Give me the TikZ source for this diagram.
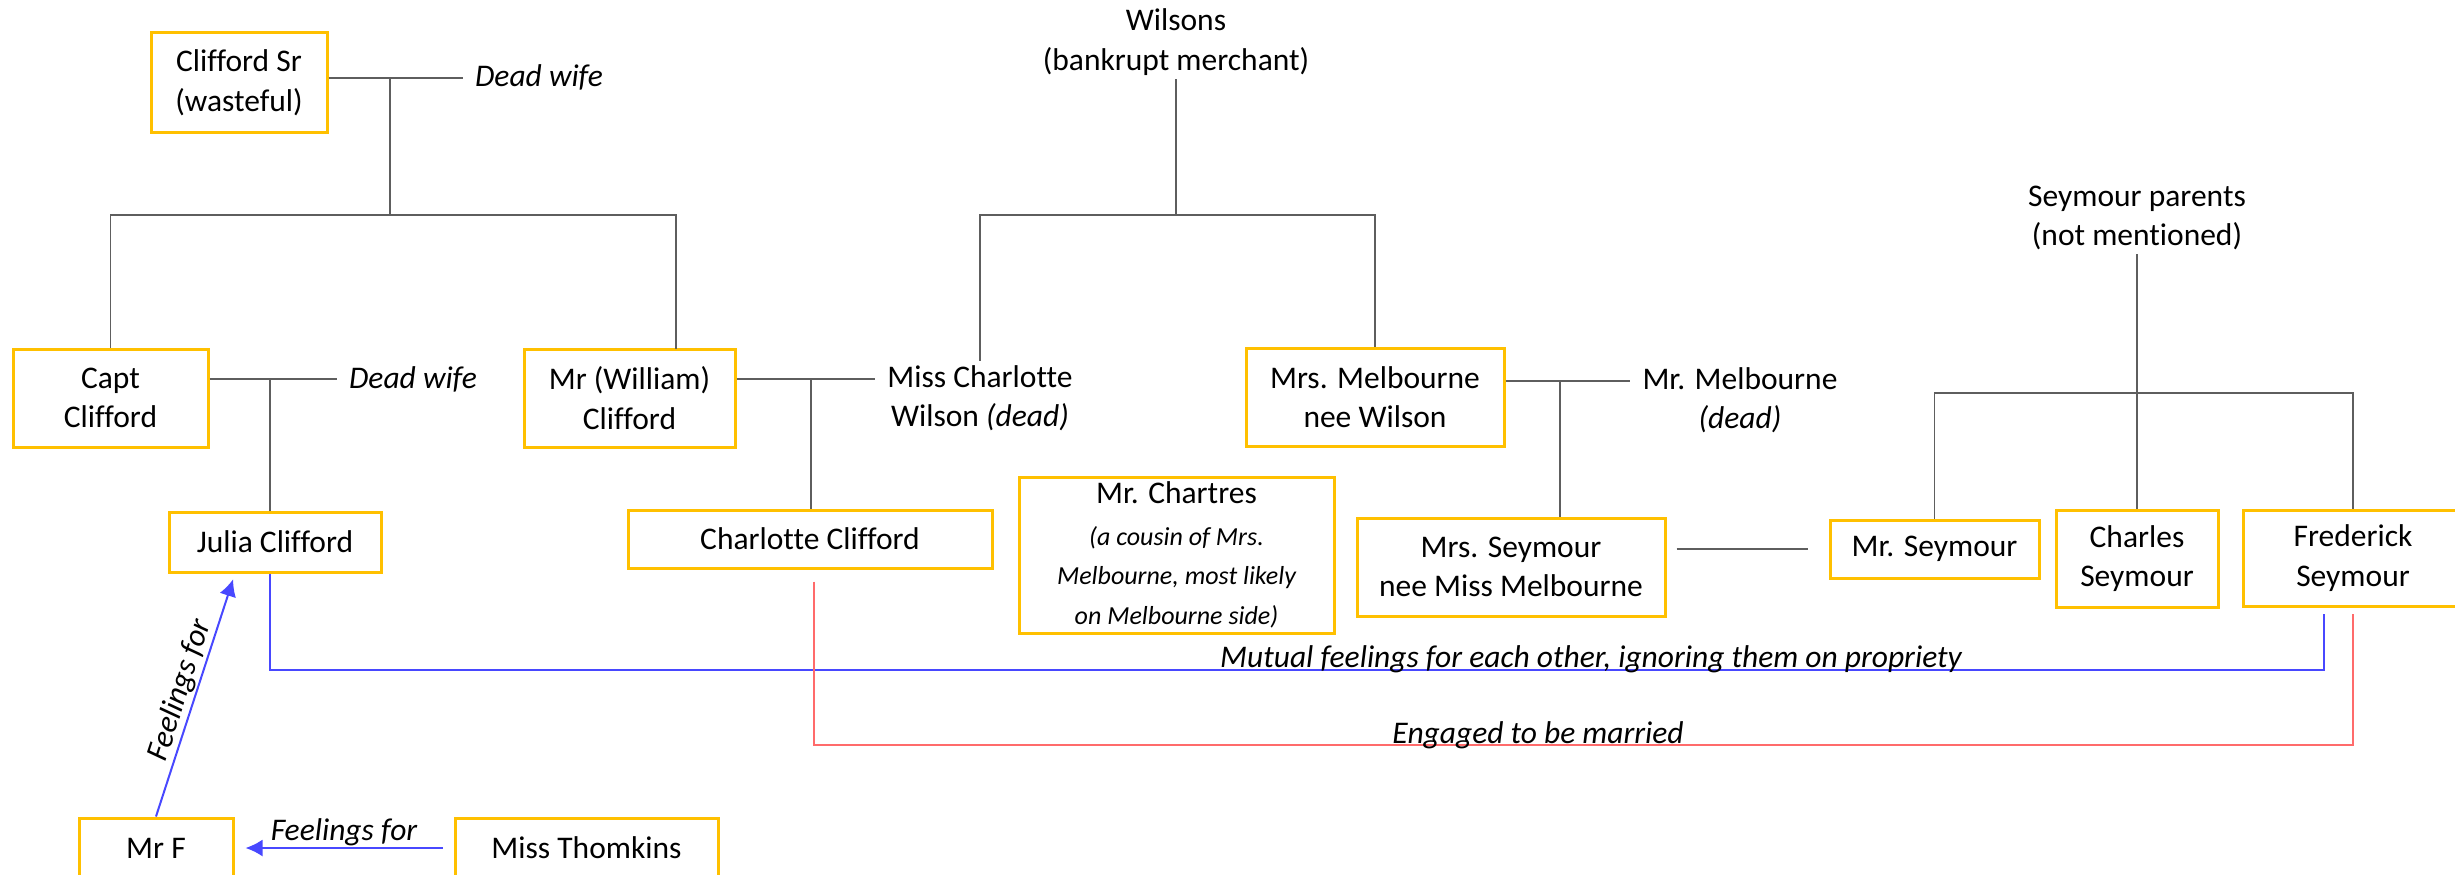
\documentclass[tikz,border=0pt]{standalone}
\usepackage{fontspec}
\setmainfont{Carlito}[Ligatures=NoCommon]
\usetikzlibrary{arrows.meta}
\definecolor{boxgold}{HTML}{FFC000}
\definecolor{treegray}{HTML}{5E5E5E}
\definecolor{feelblue}{HTML}{4848FF}
\definecolor{engagedred}{HTML}{FF6B6B}
\newcommand\smallit{\fontsize{26}{32}\selectfont\itshape}
\begin{document}
\begin{tikzpicture}[x=1pt,y=-1pt,
    font=\fontsize{31.5}{39.5}\selectfont,
    person/.style={draw=boxgold,line width=3pt,align=center,inner sep=0pt},
    note/.style={align=center,inner xsep=12pt,inner ysep=4pt},
    spouse/.style={note,font=\fontsize{31.5}{39.5}\selectfont\itshape},
    lbl/.style={font=\fontsize{31.5}{39.5}\selectfont\itshape,inner sep=1pt},
    tree/.style={draw=treegray,line width=1.6pt},
    mutual/.style={draw=feelblue,line width=2pt},
    engaged/.style={draw=engagedred,line width=2pt},
    feel/.style={draw=feelblue,line width=2pt,-{Latex[length=17pt,width=17pt]}}]
  \useasboundingbox (0,0) rectangle (2455,875);

  % Cliffords
  \node[person,minimum width=176pt,minimum height=99pt] (cs) at (239,82.5) {Clifford Sr\\(wasteful)};
  \node[spouse] (cswife) at (539,77) {Dead wife};
  \node[person,minimum width=195pt,minimum height=98pt] (capt) at (110.5,398) {Capt\\Clifford};
  \node[spouse] (captwife) at (413,379) {Dead wife};
  \node[person,minimum width=211pt,minimum height=98pt] (will) at (629.5,398) {Mr (William)\\Clifford};
  \node[note] (mcw) at (980,398) {Miss Charlotte\\Wilson \textit{(dead)}};
  \node[person,minimum width=212pt,minimum height=60pt] (julia) at (275,542) {Julia Clifford};
  \node[person,minimum width=364pt,minimum height=58pt] (cc) at (810,539) {Charlotte Clifford};

  % Wilsons and Melbournes
  \node[note] (wil) at (1176,42) {Wilsons\\(bankrupt merchant)};
  \node[person,minimum width=258pt,minimum height=98pt] (mrsm) at (1375,397) {Mrs. Melbourne\\nee Wilson};
  \node[note] (mrm) at (1740,400) {Mr. Melbourne\\\textit{(dead)}};
  \node[person,minimum width=315pt,minimum height=156pt] (chartres) at (1176.5,555)
    {Mr. Chartres\\[2pt]\smallit(a cousin of Mrs.\\\smallit Melbourne, most likely\\\smallit on Melbourne side)};
  \node[person,minimum width=308pt,minimum height=98pt] (mrss) at (1511,567) {Mrs. Seymour\\nee Miss Melbourne};

  % Seymours
  \node[note] (sp) at (2137,218) {Seymour parents\\(not mentioned)};
  \node[person,minimum width=209pt,minimum height=58pt] (mrs) at (1934.5,549) {Mr. Seymour};
  \node[person,minimum width=162pt,minimum height=97pt] (chs) at (2137,558.5) {Charles\\Seymour};
  \node[person,minimum width=220pt,minimum height=96pt] (fs) at (2353,558) {Frederick\\Seymour};

  % bottom row
  \node[person,minimum width=154pt,minimum height=60pt] (mrf) at (156,848) {Mr F};
  \node[person,minimum width=263pt,minimum height=60pt] (mt) at (586.5,848) {Miss Thomkins};

  \coordinate (csm) at (390,78);
  \coordinate (csk) at (390,215);
  \coordinate (willtop) at (676,349);
  \coordinate (captm) at (270,379);
  \coordinate (willm) at (811,379);
  \coordinate (wilk) at (1176,215);
  \coordinate (melm) at (1560,381);
  \coordinate (seyk) at (2137,393);
  \coordinate (mutualy) at (1000,670);
  \coordinate (engy) at (1000,745);

  \draw[tree] (cs.east |- csm) -- (cswife.west |- csm);
  \draw[tree] (csm) -- (csk);
  \draw[tree] (capt.north) |- (csk) -| (willtop);
  \draw[tree] (capt.east |- captm) -- (captwife.west |- captm);
  \draw[tree] (captm) -- (julia.north -| captm);
  \draw[tree] (will.east |- willm) -- (mcw.west |- willm);
  \draw[tree] (willm) -- (cc.north -| willm);
  \draw[tree] (wil.south) -- (wilk);
  \draw[tree] (mcw.north) |- (wilk) -| (mrsm.north);
  \draw[tree] (mrsm.east |- melm) -- (mrm.west |- melm);
  \draw[tree] (melm) -- (mrss.north -| melm);
  \draw[tree,shorten <=10pt,shorten >=21pt] (mrss.east |- mrs.west) -- (mrs.west);
  \draw[tree] (sp.south) -- (chs.north);
  \draw[tree] (mrs.north) |- (seyk) -| (fs.north);

  \draw[mutual,shorten >=6pt] ([xshift=-5pt]julia.south) |- (mutualy) -| ([xshift=-29pt]fs.south);
  \node[lbl,anchor=base] (mutlbl) at (1591,667) {Mutual feelings for each other, ignoring them on propriety};
  \draw[engaged,shorten <=12pt,shorten >=6pt] ([xshift=4pt]cc.south) |- (engy) -| (fs.south);
  \node[lbl,anchor=base] (englbl) at (1538,743) {Engaged to be married};

  \draw[feel,shorten <=11pt,shorten >=11pt] (mt.west) -- node[lbl,above] {Feelings for} (mrf.east);
  \draw[feel,shorten >=6pt] (mrf.north) -- node[lbl,above,sloped] {Feelings for} ([xshift=-40pt]julia.south);
\end{tikzpicture}
\end{document}
